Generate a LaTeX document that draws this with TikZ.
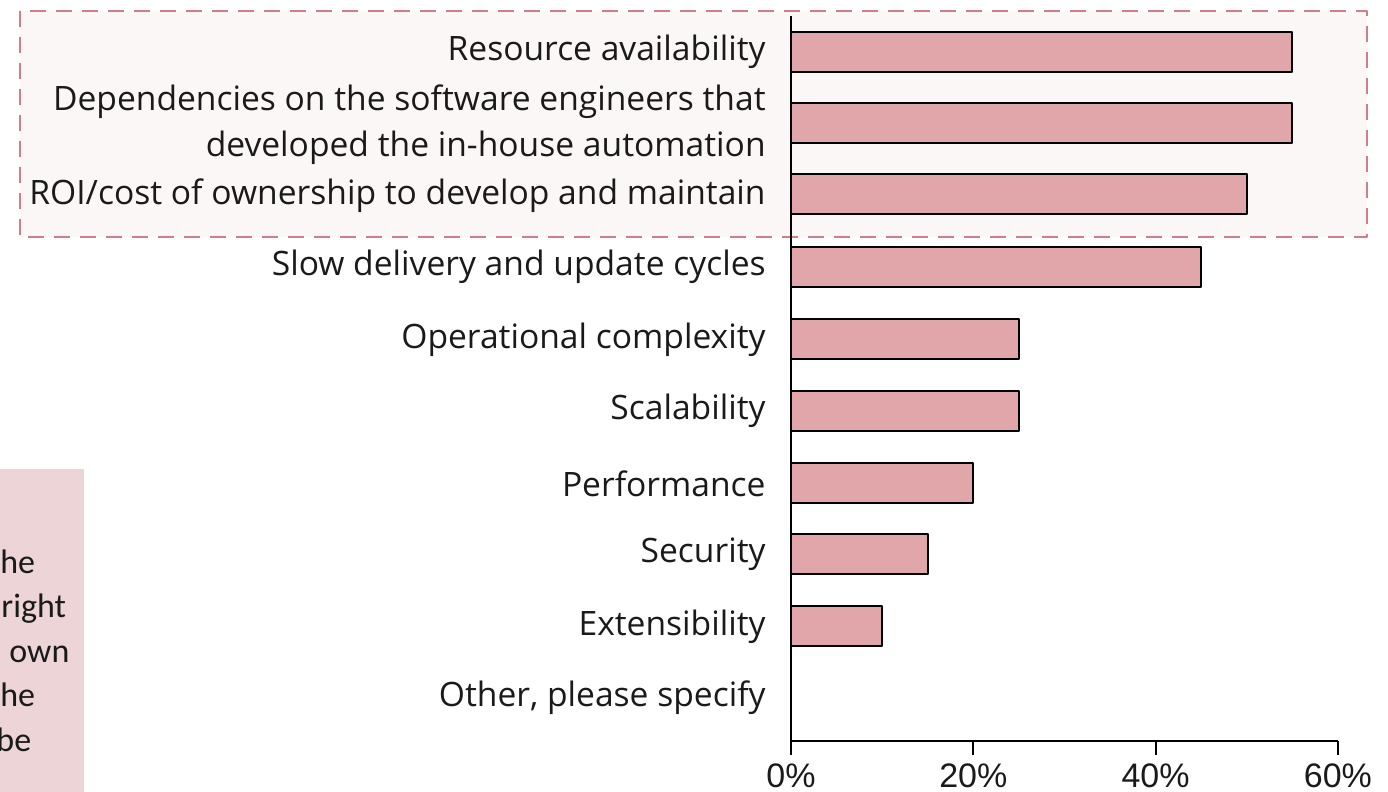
\documentclass[tikz,border=0pt]{standalone}
\usepackage{fontspec}
\setmainfont{Liberation Sans}
\newfontfamily\catfont{Open Sans}
\newfontfamily\notefont{Carlito}
\definecolor{barpink}{HTML}{E0A6AA}
\definecolor{hlfill}{HTML}{FCF7F7}
\definecolor{hldash}{HTML}{D27D89}
\definecolor{notefill}{HTML}{ECD4D7}
\definecolor{txtdark}{HTML}{1A1A1A}
\tikzset{
	barbox/.style={draw=black,fill=barpink,line width=1pt},
	catlabel/.style={anchor=east,inner sep=0pt,align=right,text=txtdark,font=\catfont\fontsize{16.8}{23}\selectfont},
	pctlabel/.style={inner sep=0pt,text=txtdark,font=\fontsize{17}{20}\selectfont},
	notetext/.style={anchor=base west,inner sep=0pt,text=txtdark,font=\notefont\fontsize{17}{20}\selectfont}
}
\begin{document}
\begin{tikzpicture}[x=0.5pt,y=-0.5pt,line join=round]
				
				\def\o{791}   % x of the 0% line
				\def\u{9.115} % width of 1%
				\def\h{20}    % half bar height
				\useasboundingbox (0,0) rectangle (1388,792);
				\draw[hldash,fill=hlfill,line width=1pt,dash pattern=on 8 off 5] (20,11) rectangle (1367,237); % top three
				\fill[notefill] (0,469) rectangle (84,792); % side note, cut at the edge
				\begin{scope}
					\clip (0,469) rectangle (84,792);
					\node[notetext] (n1) at (0,573) {he};
					\node[notetext] (n2) at (1,617) {right};
					\node[notetext] (n3) at (9,662) {own};
					\node[notetext] (n4) at (0,706) {he};
					\node[notetext] (n5) at (-4,751) {be};
				\end{scope}
				\draw[barbox] (\o,52-\h) rectangle ({\o+55*\u},52+\h);
				\draw[barbox] (\o,123-\h) rectangle ({\o+55*\u},123+\h);
				\draw[barbox] (\o,194-\h) rectangle ({\o+50*\u},194+\h);
				\draw[barbox] (\o,267-\h) rectangle ({\o+45*\u},267+\h);
				\draw[barbox] (\o,339-\h) rectangle ({\o+25*\u},339+\h);
				\draw[barbox] (\o,411-\h) rectangle ({\o+25*\u},411+\h);
				\draw[barbox] (\o,483-\h) rectangle ({\o+20*\u},483+\h);
				\draw[barbox] (\o,554-\h) rectangle ({\o+15*\u},554+\h);
				\draw[barbox] (\o,626-\h) rectangle ({\o+10*\u},626+\h);
				\node[catlabel] (c1) at (766,52) {Resource availability};
				\node[catlabel] (c2) at (766,125) {Dependencies on the software engineers that\\developed the in-house automation};
				\node[catlabel] (c3) at (766,196) {ROI/cost of ownership to develop and maintain};
				\node[catlabel] (c4) at (766,267) {Slow delivery and update cycles};
				\node[catlabel] (c5) at (766,340) {Operational complexity};
				\node[catlabel] (c6) at (766,411) {Scalability};
				\node[catlabel] (c7) at (766,484) {Performance};
				\node[catlabel] (c8) at (766,554) {Security};
				\node[catlabel] (c9) at (766,627) {Extensibility};
				\node[catlabel] (c10) at (766,698) {Other, please specify};
				\draw[line width=1pt] (\o,16) -- (\o,741) -- ({\o+60*\u},741); % axes
				\draw[line width=1pt] (\o,741) -- (\o,755) ({\o+20*\u},741) -- ({\o+20*\u},755) ({\o+40*\u},741) -- ({\o+40*\u},755) ({\o+60*\u},741) -- ({\o+60*\u},755);
				\node[pctlabel] (p0) at (\o,776) {0\%};
				\node[pctlabel] (p20) at ({\o+20*\u},776) {20\%};
				\node[pctlabel] (p40) at ({\o+40*\u},776) {40\%};
				\node[pctlabel] (p60) at ({\o+60*\u},776) {60\%};
\end{tikzpicture}
\end{document}
